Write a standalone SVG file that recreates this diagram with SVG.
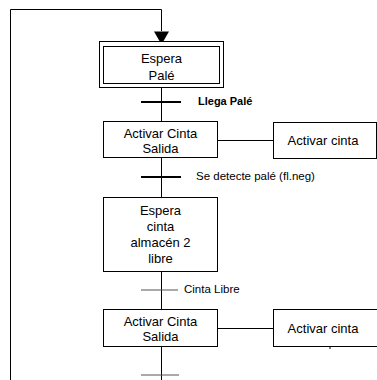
<svg xmlns="http://www.w3.org/2000/svg" width="377" height="380" viewBox="0 0 377 380">
  <style>
    .box { fill: #ffffff; stroke: #000000; stroke-width: 1; }
    .wire { fill: none; stroke: #000000; stroke-width: 1; }
    .bar { stroke: #000000; stroke-width: 2; }
    .bar-thin { stroke: #555555; stroke-width: 1.2; }
    .t { font-family: "Liberation Sans", Arial, sans-serif; font-size: 13px; fill: #000000; text-anchor: middle; }
    .lbl { font-family: "Liberation Sans", Arial, sans-serif; font-size: 11.5px; fill: #000000; }
    .lbl-b { font-family: "Liberation Sans", Arial, sans-serif; font-size: 11px; font-weight: bold; fill: #000000; }
  </style>

  <!-- connectors and transitions -->
  <g id="connectors">
    <!-- return loop into initial step -->
    <path class="wire" d="M10.5,380 L10.5,9.5 L161.5,9.5 L161.5,31"/>
    <path d="M154,31.5 L169,31.5 L161.5,44.5 Z" fill="#000000"/>
    <!-- main sequence line -->
    <line class="wire" x1="161.5" y1="88" x2="161.5" y2="121"/>
    <line class="wire" x1="161.5" y1="158" x2="161.5" y2="198"/>
    <line class="wire" x1="161.5" y1="271" x2="161.5" y2="309"/>
    <line class="wire" x1="161.5" y1="347" x2="161.5" y2="380"/>
    <!-- transitions -->
    <line class="bar" x1="141" y1="102" x2="181" y2="102"/>
    <line class="bar" x1="141" y1="177" x2="181" y2="177"/>
    <line class="bar-thin" x1="141" y1="290" x2="178" y2="290"/>
    <line class="bar-thin" x1="141" y1="375" x2="179" y2="375"/>
    <!-- step to action links -->
    <line class="wire" x1="218" y1="140.5" x2="273" y2="140.5"/>
    <line class="wire" x1="217" y1="328.5" x2="273" y2="328.5"/>
    <line class="wire" x1="330" y1="347" x2="330" y2="349"/>
  </g>

  <!-- transition conditions -->
  <g id="transition-labels">
    <text class="lbl-b" x="198" y="105">Llega Palé</text>
    <text class="lbl" x="196" y="180">Se detecte palé (fl.neg)</text>
    <text class="lbl" x="184" y="293">Cinta Libre</text>
  </g>

  <!-- initial step -->
  <g id="step-espera-pale">
    <rect class="box" x="99.5" y="41.5" width="124" height="46"/>
    <rect class="box" x="103.5" y="46.5" width="116" height="37"/>
    <text class="t" x="161.5" y="63">Espera</text>
    <text class="t" x="161.5" y="80">Palé</text>
  </g>

  <g id="step-activar-cinta-salida-1">
    <rect class="box" x="103.5" y="121.5" width="114" height="36"/>
    <text class="t" x="160.5" y="138">Activar Cinta</text>
    <text class="t" x="160.5" y="153">Salida</text>
  </g>

  <g id="action-activar-cinta-1">
    <rect class="box" x="273.5" y="122.5" width="103" height="36"/>
    <text class="t" x="323" y="145">Activar cinta</text>
  </g>

  <g id="step-espera-cinta">
    <rect class="box" x="103.5" y="197.5" width="114" height="74"/>
    <text class="t" x="160.5" y="215">Espera</text>
    <text class="t" x="160.5" y="231">cinta</text>
    <text class="t" x="160.5" y="247">almacén 2</text>
    <text class="t" x="160.5" y="263">libre</text>
  </g>

  <g id="step-activar-cinta-salida-2">
    <rect class="box" x="103.5" y="309.5" width="114" height="37"/>
    <text class="t" x="160.5" y="326">Activar Cinta</text>
    <text class="t" x="160.5" y="341">Salida</text>
  </g>

  <g id="action-activar-cinta-2">
    <rect class="box" x="273.5" y="309.5" width="110" height="37"/>
    <text class="t" x="323" y="333">Activar cinta</text>
  </g>
</svg>
